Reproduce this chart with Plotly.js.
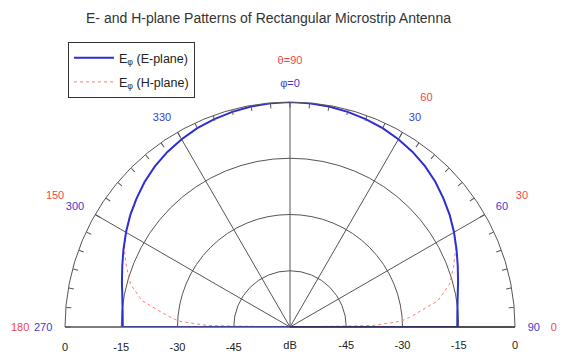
<!DOCTYPE html>
<html>
<head>
<meta charset="utf-8">
<script src="https://cdn.plot.ly/plotly-3.0.1.min.js"></script>
<style>html,body{margin:0;padding:0;background:#fff;}#chart{width:562px;height:352px;}</style>
</head>
<body>
<div id="chart"></div>
<script>
// Angles theta (deg from broadside; negative = phi 180 side) and pattern levels in dB
const thetaE = [-90,-85,-80,-75,-70,-65,-60,-55,-50,-45,-40,-35,-30,-25,-20,-15,-10,-5,0,5,10,15,20,25,30,35,40,45,50,55,60,65,70,75,80,85,90];
const dbE = [-15.4,-15.2,-14.6,-13.6,-12.4,-11.0,-9.5,-8.0,-6.6,-5.2,-4.0,-3.0,-2.2,-1.5,-1.0,-0.6,-0.3,-0.1,0,-0.1,-0.3,-0.6,-1.0,-1.5,-2.2,-3.0,-4.0,-5.2,-6.6,-8.0,-9.5,-11.0,-12.4,-13.6,-14.6,-15.2,-15.4];
const thetaH = [-90,-89,-87,-85,-80,-75,-70,-65,-60,-55,-50,-45,-40,-35,-30,-25,-20,-15,-10,-5,0,5,10,15,20,25,30,35,40,45,50,55,60,65,70,75,80,85,87,89,90];
const dbH = [-60,-38,-30.3,-27.5,-20.0,-16.0,-13.6,-11.3,-9.4,-7.9,-6.5,-5.2,-4.1,-3.1,-2.3,-1.6,-1.0,-0.6,-0.3,-0.1,0,-0.1,-0.3,-0.6,-1.0,-1.6,-2.3,-3.1,-4.1,-5.2,-6.5,-7.9,-9.4,-11.3,-13.6,-16.0,-20.0,-27.5,-30.3,-38,-60];
const phiTickVals = [-90,-60,-30,0,30,60,90];
const phiTickText = ['270','300','330','\u03c6=0','30','60','90'];
const thetaTickVals = [-90,-60,0,30,60,90];
const thetaTickText = ['180','150','\u03b8=90','60','30','0'];
const radialValsRight = [-60,-45,-30,-15,0];
const radialTextRight = ['dB','-45','-30','-15','0'];
const radialValsLeft = [-45,-30,-15,0];
const radialTextLeft = ['-45','-30','-15','0'];

const minorVals = [];
for (let a = -90; a <= 90; a += 5) minorVals.push(a);

// close E-plane curve across the baseline
const thetaEc = thetaE.concat([thetaE[0]]);
const dbEc = dbE.concat([dbE[0]]);

const gridCol = '#555555';
const traces = [
  {type:'scatterpolar', subplot:'polar', r:dbH, theta:thetaH, mode:'lines', name:'E<sub>\u03c6</sub> (H-plane)',
   legendgroup:'h', line:{color:'#ff7a7a', width:1, dash:'dot'}, legendrank:2, hoverinfo:'skip'},
  {type:'scatterpolar', subplot:'polar', r:dbEc, theta:thetaEc, mode:'lines', name:'E<sub>\u03c6</sub> (E-plane)',
   legendgroup:'e', line:{color:'#2e2ed6', width:2}, legendrank:1, hoverinfo:'skip'},
  {type:'scatterpolar', subplot:'polar2', r:[], theta:[], mode:'lines', showlegend:false, hoverinfo:'skip'},
  {type:'scatterpolar', subplot:'polar3', r:[], theta:[], mode:'lines', showlegend:false, hoverinfo:'skip'}
];

const dom = {x:[65/562, 515/562], y:[25/352, 250/352]};
const layout = {
  width:562, height:352, margin:{l:0,r:0,t:0,b:0},
  paper_bgcolor:'#ffffff',
  font:{family:'"Liberation Sans", Arial, sans-serif', size:11, color:'#222'},
  title:{text:'E- and H-plane Patterns of Rectangular Microstrip Antenna', x:268.5/562, xanchor:'center', y:1-18/352, yanchor:'middle', font:{size:14, color:'#333'}},
  showlegend:true,
  legend:{x:68/562, y:1-42/352, xanchor:'left', yanchor:'top', bgcolor:'#ffffff', bordercolor:'#333', borderwidth:1,
    font:{size:12.5, color:'#222'}, itemwidth:40, tracegroupgap:5},
  polar:{
    domain:dom, sector:[0,180], bgcolor:'#ffffff',
    angularaxis:{rotation:90, direction:'clockwise', tickmode:'array', tickvals:phiTickVals, ticktext:phiTickText,
      tickfont:{color:'#3b3bd0', size:11}, ticks:'outside', ticklen:10, tickcolor:'rgba(0,0,0,0)',
      showgrid:true, gridcolor:gridCol, gridwidth:1, showline:true, linecolor:gridCol, linewidth:1},
    radialaxis:{range:[-60,0], angle:0, side:'clockwise', tickmode:'array', tickvals:radialValsRight, ticktext:radialTextRight,
      tickangle:0, ticks:'outside', ticklen:8, tickcolor:'rgba(0,0,0,0)', showgrid:true, gridcolor:gridCol, gridwidth:1,
      showline:true, linecolor:'#222', linewidth:1, tickfont:{size:11, color:'#222'}}
  },
  polar2:{
    domain:dom, sector:[0,180], bgcolor:'rgba(0,0,0,0)',
    angularaxis:{rotation:90, direction:'clockwise', tickmode:'array', tickvals:minorVals, ticks:'inside', ticklen:5,
      tickcolor:gridCol, tickwidth:1, showticklabels:false, showgrid:false, showline:false},
    radialaxis:{range:[-60,0], angle:180, side:'counterclockwise', tickmode:'array', tickvals:radialValsLeft, ticktext:radialTextLeft,
      tickangle:180, ticks:'outside', ticklen:8, tickcolor:'rgba(0,0,0,0)', showgrid:false, showline:false,
      tickfont:{size:11, color:'#222'}}
  },
  polar3:{
    domain:dom, sector:[0,180], bgcolor:'rgba(0,0,0,0)',
    angularaxis:{rotation:90, direction:'clockwise', tickmode:'array', tickvals:thetaTickVals, ticktext:thetaTickText,
      tickfont:{color:'#f04848', size:11}, ticks:'outside', ticklen:33, tickcolor:'rgba(0,0,0,0)',
      showgrid:false, showline:false},
    radialaxis:{range:[-60,0], visible:false}
  }
};
Plotly.newPlot('chart', traces, layout, {staticPlot:true, displayModeBar:false});
</script>
</body>
</html>
